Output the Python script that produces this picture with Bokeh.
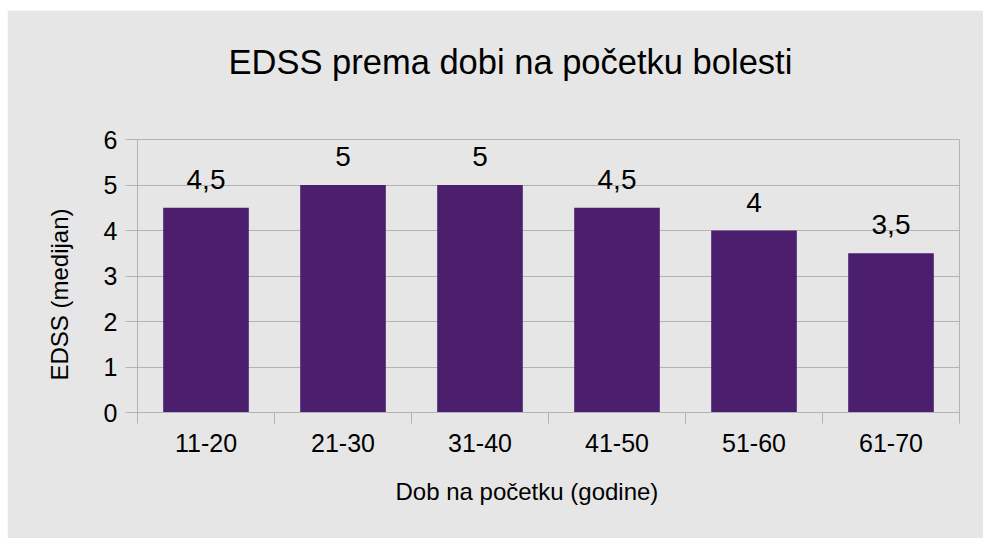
from bokeh.plotting import figure
from bokeh.models import Range1d, FixedTicker, ColumnDataSource, LinearAxis, Title
from bokeh.core.properties import value
from bokeh.embed import file_html
from bokeh.resources import INLINE

categories = ["11-20", "21-30", "31-40", "41-50", "51-60", "61-70"]
edss_median = [4.5, 5, 5, 4.5, 4, 3.5]
y_ticks = [0, 1, 2, 3, 4, 5, 6]

title_text = "EDSS prema dobi na početku bolesti"
x_title = "Dob na početku (godine)"
y_title = "EDSS (medijan)"

FONT = "Liberation Sans"
BG = "#e6e6e6"
GRID = "#b3b3b3"
BAR = "#4b1e6e"

def fmt(v):
    return ("%g" % v).replace(".", ",")

xs = [i + 1 for i in range(len(categories))]
src = ColumnDataSource(dict(x=xs, top=edss_median, lab=[fmt(v) for v in edss_median]))

p = figure(width=976, height=528, output_backend="svg", toolbar_location=None,
           x_range=Range1d(0.5, len(categories) + 0.5), y_range=Range1d(0, 6),
           min_border_left=130, min_border_right=24, min_border_top=129, min_border_bottom=126,
           x_axis_type=None)
p.title_location = None
p.margin = (10, 0, 0, 7)
p.background_fill_color = BG
p.border_fill_color = BG
p.outline_line_color = GRID
p.outline_line_width = 1

p.vbar(x="x", top="top", width=0.625, source=src, fill_color=BAR, line_color=None)
p.text(x="x", y="top", text="lab", source=src, text_align="center", text_baseline="bottom",
       y_offset=-19, text_font=value(FONT), text_font_size="28px", text_color="black")

# x axis
xaxis = LinearAxis(ticker=FixedTicker(ticks=xs, minor_ticks=[i + 0.5 for i in range(len(categories) + 1)]))
xaxis.major_label_overrides = {x: c for x, c in zip(xs, categories)}
xaxis.major_tick_line_color = None
xaxis.major_tick_out = 0
xaxis.major_tick_in = 0
xaxis.minor_tick_line_color = GRID
xaxis.minor_tick_out = 11
xaxis.minor_tick_in = 0
xaxis.axis_line_color = GRID
xaxis.major_label_text_font = FONT
xaxis.major_label_text_font_size = "25px"
xaxis.major_label_text_color = "black"
xaxis.major_label_standoff = 10
p.add_layout(xaxis, "below")

yaxis = p.yaxis[0]
yaxis.ticker = FixedTicker(ticks=y_ticks)
yaxis.major_tick_line_color = GRID
yaxis.major_tick_out = 12
yaxis.major_tick_in = 0
yaxis.minor_tick_line_color = None
yaxis.axis_line_color = GRID
yaxis.major_label_text_font = FONT
yaxis.major_label_text_font_size = "25px"
yaxis.major_label_text_color = "black"
yaxis.major_label_standoff = 8

p.xgrid.grid_line_color = None
p.ygrid.grid_line_color = GRID
p.ygrid.ticker = FixedTicker(ticks=y_ticks)

# spacer between frame and title, then the title itself
p.add_layout(Title(text=" ", text_font_size="10px", standoff=46, text_color=BG), "above")
p.add_layout(Title(text=title_text, align="left", offset=91, standoff=0, text_font=FONT,
                   text_font_size="34.5px", text_font_style="normal", text_color="black"), "above")

p.add_layout(Title(text=x_title, align="left", offset=258, standoff=43, text_font=FONT,
                   text_font_size="24px", text_font_style="normal", text_color="black"), "below")
p.add_layout(Title(text=y_title, align="left", offset=32, standoff=56, text_font=FONT,
                   text_font_size="24px", text_font_style="normal", text_color="black"), "left")

open("out.html", "w").write(file_html(p, INLINE))
